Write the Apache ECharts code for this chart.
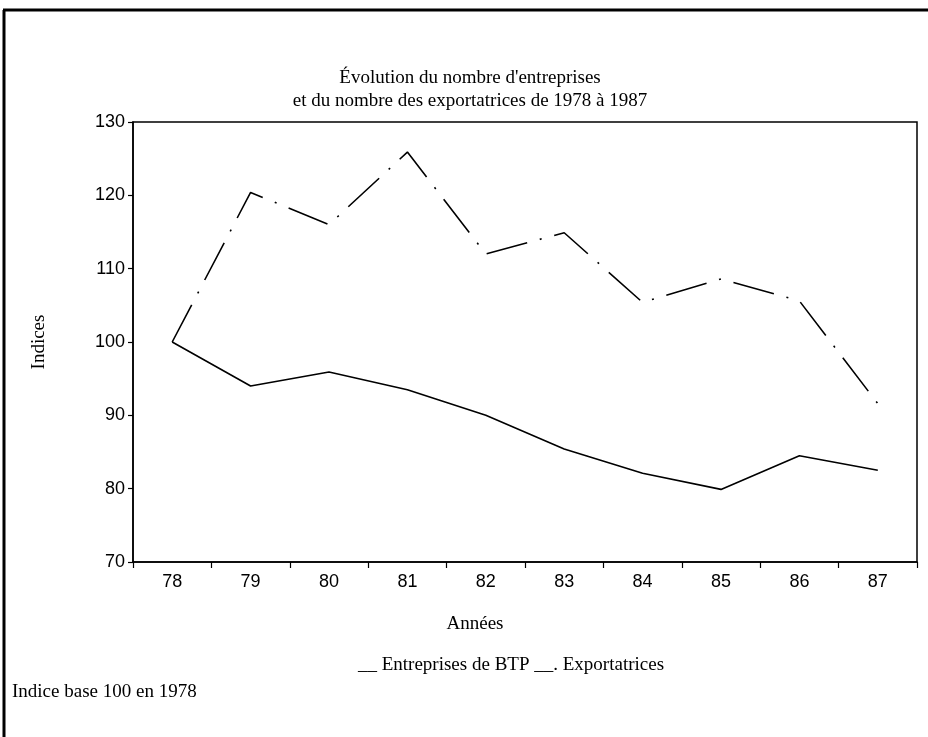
<!DOCTYPE html>
<html>
<head>
<meta charset="UTF-8">
<title>Entreprises BTP</title>
<script src="https://cdn.jsdelivr.net/npm/echarts@6/dist/echarts.min.js"></script>
<style>
  html, body { margin: 0; padding: 0; background: #fff; }
  #chart { width: 928px; height: 737px; }
</style>
</head>
<body>
<div id="chart"></div>
<script>
// donnees (indice base 100 en 1978)
var annees = ['78', '79', '80', '81', '82', '83', '84', '85', '86', '87'];
var entreprisesBTP = [100, 94.0, 95.9, 93.5, 90.0, 85.4, 82.1, 79.9, 84.5, 82.5];
var exportatrices = [100, 120.4, 116.0, 125.9, 112.0, 114.9, 105.4, 108.6, 105.6, 91.6];
var yMin = 70, yMax = 130, yStep = 10;

var serif = 'Liberation Serif';
var sans = 'Liberation Sans';

var chart = echarts.init(document.getElementById('chart'), null, { renderer: 'canvas' });

var option = {
    backgroundColor: '#fff',
    animation: false,
    title: [
        {
            text: "Évolution du nombre d'entreprises\net du nombre des exportatrices de 1978 à 1987",
            left: 465, top: 62, textAlign: 'center',
            textStyle: { fontFamily: serif, fontSize: 19, fontWeight: 'normal', color: '#000', lineHeight: 23 }
        },
        {
            text: '__ Entreprises de BTP __. Exportatrices',
            left: 506, top: 651, textAlign: 'center',
            textStyle: { fontFamily: serif, fontSize: 19, fontWeight: 'normal', color: '#000' }
        },
        {
            text: 'Indice base 100 en 1978',
            left: 7, top: 678,
            textStyle: { fontFamily: serif, fontSize: 19, fontWeight: 'normal', color: '#000' }
        }
    ],
    grid: {
        left: 133, right: 11, top: 122, bottom: 175,
        show: true, borderColor: '#000', borderWidth: 1.5
    },
    xAxis: {
        type: 'category',
        data: annees,
        boundaryGap: true,
        name: 'Années',
        nameLocation: 'middle',
        nameGap: 53,
        nameTextStyle: { fontFamily: serif, fontSize: 19, color: '#000', padding: [0, 100, 0, 0] },
        axisLine: { lineStyle: { color: '#000', width: 1.5 } },
        axisTick: { show: true, alignWithLabel: false, length: 6, lineStyle: { color: '#000', width: 1.2 } },
        axisLabel: { fontFamily: sans, fontSize: 18, color: '#000', margin: 11 },
        splitLine: { show: false }
    },
    yAxis: {
        type: 'value',
        min: yMin, max: yMax, interval: yStep,
        name: 'Indices',
        nameLocation: 'middle',
        nameGap: 84,
        nameRotate: 90,
        nameTextStyle: { fontFamily: serif, fontSize: 19, color: '#000' },
        axisLine: { show: true, lineStyle: { color: '#000', width: 1.5 } },
        axisTick: { show: true, length: 5, lineStyle: { color: '#000', width: 1.2 } },
        axisLabel: { fontFamily: sans, fontSize: 18, color: '#000', margin: 8 },
        splitLine: { show: false }
    },
    series: [
        {
            name: 'Entreprises de BTP',
            type: 'line',
            data: entreprisesBTP,
            symbol: 'none',
            lineStyle: { color: '#000', width: 1.6, type: 'solid' }
        },
        {
            name: 'Exportatrices',
            type: 'line',
            data: exportatrices,
            symbol: 'none',
            lineStyle: { color: '#000', width: 1.6, type: [42, 13, 2, 13] }
        }
    ],
    graphic: [
        // cadre du document
        { type: 'line', shape: { x1: 3, y1: 10, x2: 928, y2: 10 }, style: { stroke: '#000', lineWidth: 3 } },
        { type: 'line', shape: { x1: 4, y1: 10, x2: 4, y2: 737 }, style: { stroke: '#000', lineWidth: 3 } }
    ]
};

chart.setOption(option);
</script>
</body>
</html>
